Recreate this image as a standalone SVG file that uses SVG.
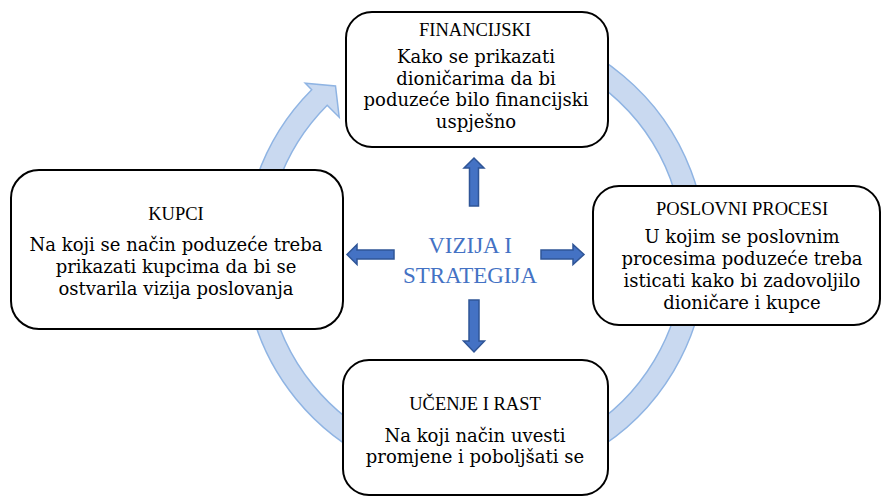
<svg xmlns="http://www.w3.org/2000/svg" width="883" height="497" viewBox="0 0 883 497">
<style>
.box{fill:#ffffff;stroke:#000000;stroke-width:2}
.ring{fill:#c9d9f0;stroke:#8fb4e3;stroke-width:1.5;stroke-linejoin:miter}
.blk{fill:#4472c4;stroke:#2f5597;stroke-width:1.5}
text{font-family:"DejaVu Serif","Liberation Serif",serif;fill:#000;text-anchor:middle}
.t{font-family:"Liberation Serif",serif;font-size:18.5px}
.b{font-size:18px}
.c{font-family:"Liberation Serif",serif;font-size:23px;fill:#4472c4}
</style>
<g id="connectors">
<path id="cycle" class="ring" d="M415.2,29.9 A231,231 0 1 1 311.7,89.7 L305.3,83.3 L335.5,86 L339.2,117.2 L327.2,105.2 A209,209 0 1 0 420.9,51.1 Z"/>
<path id="arrow-up" class="blk" d="M469.5,206 L469.5,168 L464,168 L474,158 L484,168 L478.5,168 L478.5,206 Z"/>
<path id="arrow-down" class="blk" d="M469,300 L479,300 L479,341 L484.5,341 L474,352 L463.5,341 L469,341 Z"/>
<path id="arrow-left" class="blk" d="M394,250 L394,259 L357,259 L357,264.5 L347,254.5 L357,244.5 L357,250 Z"/>
<path id="arrow-right" class="blk" d="M541,250 L573,250 L573,244.5 L584,254.5 L573,264.5 L573,259 L541,259 Z"/>
</g>
<g id="center">
<text class="c" x="470" y="253">VIZIJA I</text>
<text class="c" x="470" y="283">STRATEGIJA</text>
</g>
<g id="financijski">
<rect class="box" x="346" y="12" width="262" height="135" rx="26"/>
<text class="t" x="475" y="36">FINANCIJSKI</text>
<text class="b" x="476" y="63">Kako se prikazati</text>
<text class="b" x="476" y="84.5">dioničarima da bi</text>
<text class="b" x="476" y="106">poduzeće bilo financijski</text>
<text class="b" x="476" y="127.5">uspješno</text>
</g>
<g id="kupci">
<rect class="box" x="11" y="170" width="332" height="159" rx="28"/>
<text class="t" x="176" y="220">KUPCI</text>
<text class="b" x="176" y="251">Na koji se način poduzeće treba</text>
<text class="b" x="176" y="273">prikazati kupcima da bi se</text>
<text class="b" x="176" y="295">ostvarila vizija poslovanja</text>
</g>
<g id="poslovni-procesi">
<rect class="box" x="593" y="186" width="287" height="139" rx="26"/>
<text class="t" x="742" y="215">POSLOVNI PROCESI</text>
<text class="b" x="742" y="243">U kojim se poslovnim</text>
<text class="b" x="742" y="265">procesima poduzeće treba</text>
<text class="b" x="742" y="287">isticati kako bi zadovoljilo</text>
<text class="b" x="742" y="309">dioničare i kupce</text>
</g>
<g id="ucenje-i-rast">
<rect class="box" x="343" y="360" width="265" height="135" rx="26"/>
<text class="t" x="475" y="410">UČENJE I RAST</text>
<text class="b" x="475" y="442">Na koji način uvesti</text>
<text class="b" x="475" y="463">promjene i poboljšati se</text>
</g>
</svg>
